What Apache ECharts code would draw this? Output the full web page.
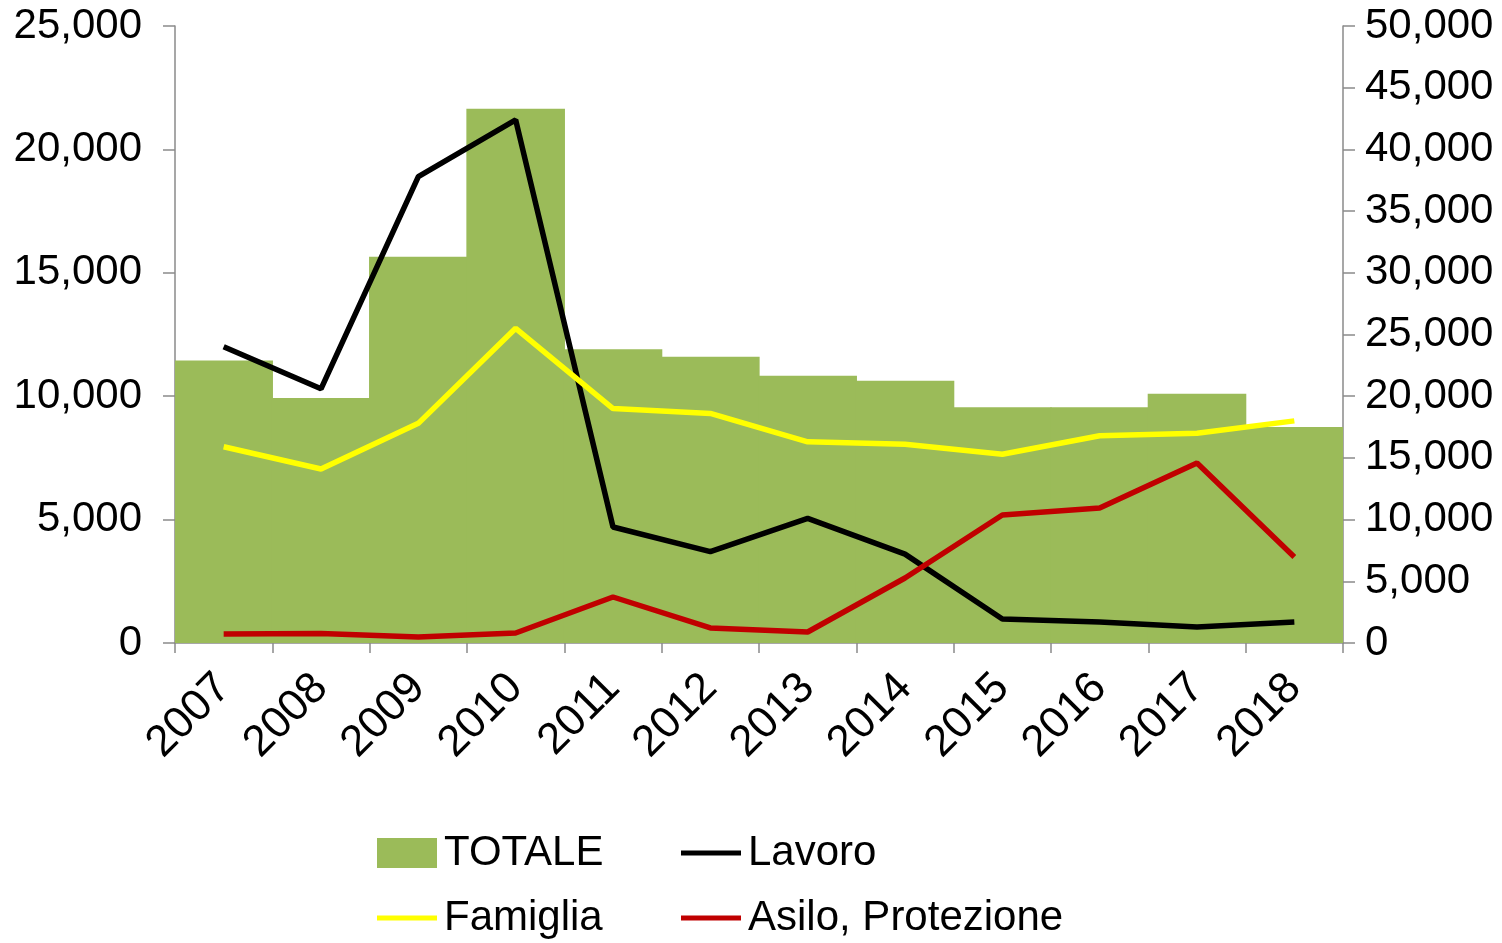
<!DOCTYPE html>
<html>
<head>
<meta charset="utf-8">
<script src="https://cdn.jsdelivr.net/npm/echarts@6/dist/echarts.min.js"></script>
<style>
html,body{margin:0;padding:0;background:#fff;}
#chart{width:1502px;height:943px;}
</style>
</head>
<body>
<div id="chart"></div>
<script>
const years = ['2007','2008','2009','2010','2011','2012','2013','2014','2015','2016','2017','2018'];
const totale = [22900, 19850, 31300, 43300, 23800, 23200, 21650, 21250, 19100, 19100, 20200, 17500];
const lavoro = [12000, 10300, 18900, 21200, 4700, 3700, 5050, 3600, 970, 850, 650, 850];
const famiglia = [7950, 7050, 8900, 12750, 9500, 9300, 8150, 8050, 7650, 8400, 8500, 9000];
const asilo = [365, 380, 243, 405, 1864, 608, 446, 2634, 5187, 5470, 7294, 3485];
const seriesNames = ['TOTALE', 'Lavoro', 'Famiglia', 'Asilo, Protezione'];

const FONT = 'Liberation Sans, Arial, sans-serif';
const axisGray = '#8a8a8a';
const fmt = v => v === 0 ? '0' : v.toLocaleString('en-US');

const chart = echarts.init(document.getElementById('chart'), null, {renderer: 'canvas'});
const legendBase = {
  orient: 'horizontal',
  itemWidth: 60,
  textStyle: {fontFamily: FONT, fontSize: 42, color: '#000', padding: [0, 0, 0, 2]},
  selectedMode: false
};
chart.setOption({
  animation: false,
  backgroundColor: '#fff',
  grid: {left: 175, right: 159, top: 26, bottom: 300},
  legend: [
    Object.assign({}, legendBase, {data: [{name: seriesNames[0], icon: 'rect'}], itemHeight: 30, left: 372, top: 827}),
    Object.assign({}, legendBase, {data: [{name: seriesNames[1], icon: 'rect', itemStyle: {color: '#000000'}}], itemHeight: 5, left: 676, top: 827}),
    Object.assign({}, legendBase, {data: [{name: seriesNames[2], icon: 'rect', itemStyle: {color: '#FFFF00'}}], itemHeight: 5, left: 372, top: 892}),
    Object.assign({}, legendBase, {data: [{name: seriesNames[3], icon: 'rect', itemStyle: {color: '#C00000'}}], itemHeight: 5, left: 676, top: 892})
  ],
  xAxis: {
    type: 'category',
    data: years,
    boundaryGap: true,
    axisLine: {show: true, lineStyle: {color: axisGray, width: 1.5}},
    axisTick: {show: true, length: 10, alignWithLabel: false, lineStyle: {color: axisGray, width: 1.5}},
    axisLabel: {rotate: 45, fontFamily: FONT, fontSize: 44, color: '#000', margin: 38, interval: 0},
    splitLine: {show: false}
  },
  yAxis: [
    {
      type: 'value', position: 'left', min: 0, max: 25000, interval: 5000,
      axisLine: {show: true, lineStyle: {color: axisGray, width: 1.5}},
      axisTick: {show: true, length: 12, inside: false, lineStyle: {color: axisGray, width: 1.5}},
      axisLabel: {fontFamily: FONT, fontSize: 42, color: '#000', margin: 33, formatter: fmt},
      splitLine: {show: false}
    },
    {
      type: 'value', position: 'right', min: 0, max: 50000, interval: 5000,
      axisLine: {show: true, lineStyle: {color: axisGray, width: 1.5}},
      axisTick: {show: true, length: 12, inside: false, lineStyle: {color: axisGray, width: 1.5}},
      axisLabel: {fontFamily: FONT, fontSize: 42, color: '#000', margin: 22, formatter: fmt},
      splitLine: {show: false}
    }
  ],
  series: [
    {
      name: seriesNames[0], type: 'bar', yAxisIndex: 1, data: totale,
      barWidth: 98.6,
      itemStyle: {color: '#9BBB59'}, z: 1
    },
    {
      name: seriesNames[1], type: 'line', yAxisIndex: 0, data: lavoro,
      symbol: 'none', showSymbol: false, lineStyle: {color: '#000000', width: 5.5},
      itemStyle: {color: '#000000'}, z: 3
    },
    {
      name: seriesNames[2], type: 'line', yAxisIndex: 0, data: famiglia,
      symbol: 'none', showSymbol: false, lineStyle: {color: '#FFFF00', width: 5.5},
      itemStyle: {color: '#FFFF00'}, z: 3
    },
    {
      name: seriesNames[3], type: 'line', yAxisIndex: 0, data: asilo,
      symbol: 'none', showSymbol: false, lineStyle: {color: '#C00000', width: 5.5},
      itemStyle: {color: '#C00000'}, z: 3
    }
  ]
});
</script>
</body>
</html>
